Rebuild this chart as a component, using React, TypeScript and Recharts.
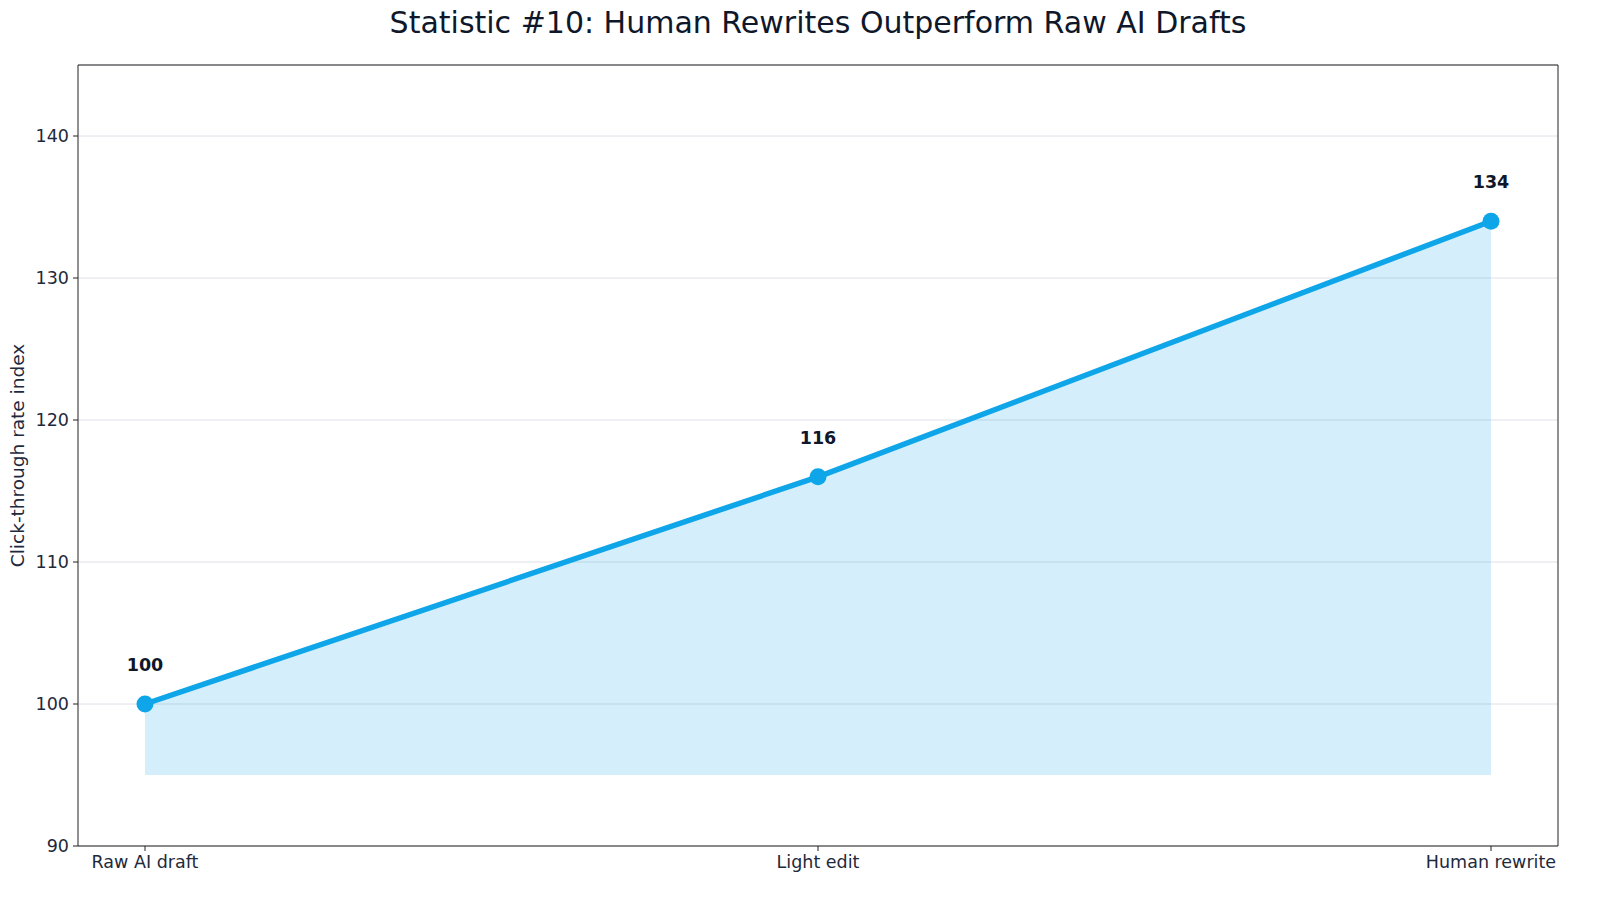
import {
  ComposedChart,
  Area,
  Line,
  XAxis,
  YAxis,
  CartesianGrid,
  LabelList,
} from "recharts"

const STAGES = ["Raw AI draft", "Light edit", "Human rewrite"]
const CTR_INDEX = [100, 116, 134]
const Y_TICKS = [90, 100, 110, 120, 130, 140]

const FONT = "'DejaVu Sans', sans-serif"
const INK = "#0f172a"
const TICK_INK = "#1e293b"
const BLUE = "#0ea5e9"

const data = STAGES.map((stage, i) => ({ stage, value: CTR_INDEX[i] }))

export default function App() {
  return (
    <div
      style={{
        position: "fixed",
        top: 0,
        left: 0,
        width: 1600,
        height: 901,
        background: "#fff",
        fontFamily: FONT,
      }}
    >
      <div
        style={{
          position: "absolute",
          top: 5,
          left: 78,
          width: 1480,
          textAlign: "center",
          fontSize: 30,
          color: INK,
        }}
      >
        Statistic #10: Human Rewrites Outperform Raw AI Drafts
      </div>
      <ComposedChart
        width={1600}
        height={901}
        data={data}
        margin={{ top: 64, right: 41, bottom: 15, left: 0 }}
      >
        <CartesianGrid vertical={false} stroke="#dde0e6" strokeWidth={1} />
        <XAxis
          dataKey="stage"
          padding={{ left: 67, right: 67 }}
          height={40}
          tick={{ fontSize: 17.5, fill: TICK_INK, fontFamily: FONT }}
          tickLine={{ stroke: "#222" }}
          tickSize={5}
          tickMargin={5}
          axisLine={{ stroke: "#222" }}
        />
        <XAxis
          xAxisId="top"
          orientation="top"
          dataKey="stage"
          height={1}
          tick={false}
          tickLine={false}
          axisLine={{ stroke: "#222" }}
        />
        <YAxis
          domain={[90, 145]}
          ticks={Y_TICKS}
          width={78}
          tick={{ fontSize: 17.5, fill: TICK_INK, fontFamily: FONT }}
          tickLine={{ stroke: "#222" }}
          tickSize={5}
          tickMargin={4}
          axisLine={{ stroke: "#222" }}
          label={{
            value: "Click-through rate index",
            angle: -90,
            position: "insideLeft",
            offset: 17,
            style: { textAnchor: "middle", fontSize: 18.5, fill: TICK_INK, fontFamily: FONT },
          }}
        />
        <YAxis
          yAxisId="right"
          orientation="right"
          domain={[90, 145]}
          width={1}
          tick={false}
          tickLine={false}
          axisLine={{ stroke: "#222" }}
        />
        <Area
          type="linear"
          dataKey="value"
          baseValue={95}
          stroke={BLUE}
          strokeOpacity={0.15}
          strokeWidth={1}
          fill={BLUE}
          fillOpacity={0.18}
          isAnimationActive={false}
        />
        <Line
          type="linear"
          dataKey="value"
          stroke={BLUE}
          strokeWidth={5.5}
          dot={{ r: 8.5, fill: BLUE, stroke: BLUE, strokeWidth: 0 }}
          activeDot={false}
          isAnimationActive={false}
        >
          <LabelList
            dataKey="value"
            position="top"
            offset={33}
            style={{ fontSize: 17.5, fontWeight: 700, fill: INK, fontFamily: FONT }}
          />
        </Line>
      </ComposedChart>
    </div>
  )
}
